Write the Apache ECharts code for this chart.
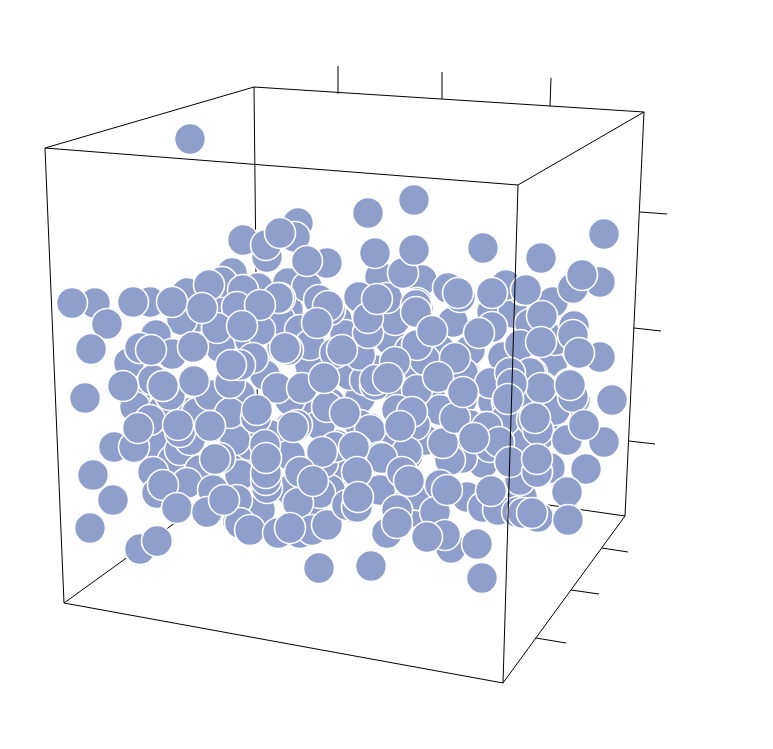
<!DOCTYPE html>
<html><head><meta charset="utf-8">
<style>html,body{margin:0;padding:0;background:#fff}#c{width:773px;height:749px}</style>
<script src="https://cdn.jsdelivr.net/npm/echarts@6/dist/echarts.min.js"></script>
</head><body><div id="c"></div>
<script>
const backEdges=[
[[254,87],[258,463]],[[258,463],[64,603]],[[258,463],[625,516]],
[[254,87],[644,112]],[[254,87],[45,148]],[[644,112],[518,185]],[[644,112],[625,516]],[[625,516],[503,683]]];
const frontEdges=[
[[45,148],[518,185]],[[518,185],[503,683]],[[503,683],[64,603]],[[64,603],[45,148]]];
const tickSegments=[
[[338,66],[338,94]],[[442,72],[442,99]],[[551,78],[550,106]],
[[640,212],[667,214]],[[634,328],[661,331]],[[629,441],[655,444]],
[[602,548],[628,552]],[[571,590],[599,594]],[[536,638],[566,643]]];
const pointsBack=[
[95,303],[150,302],[140,549],[267,257],[232,273],[298,223],[295,237],[327,263],[380,277],[422,280],[448,288],[492,293],[506,285],[573,288],[600,282],
[553,302],[600,357],[604,442],[567,440],[550,468],[568,520],[538,517],[523,513],[517,512],[522,497],[498,510],[483,507],[451,548],[435,512],[412,512],[387,533],[397,508],
[300,533],[328,525],[238,522],[237,502],[157,493],[114,447],[157,445],[129,363],[156,335],[140,348],[135,397],[135,407],[153,380],[187,293],[222,282],[243,290],[258,288],[187,413],[163,410],
[182,320],[197,317],[217,328],[237,307],[220,347],[255,360],[172,354],[227,387],[218,413],[237,418],[197,413],[173,460],[180,450],[187,483],[213,490],[238,455],
[290,427],[283,435],[288,283],[288,310],[319,300],[337,320],[359,297],[387,298],[417,303],[418,308],[453,322],[492,312],[513,313],[530,324],[552,367],[573,335],[574,326],[575,400],[572,397],[545,427],[540,435],[510,462],[537,472],
[483,463],[462,458],[493,402],[507,402],[487,427],[443,442],[455,420],[415,413],[370,428],[397,408],[330,403],[360,398],[300,410],[322,452],[337,445],[382,458],[408,455],[402,472],[300,472],[297,503],[350,502],[355,508],[418,495],[440,485],[467,497],[498,442],[465,373],[490,383],[513,375],[532,373],[542,387],[569,384],[503,357],[510,373],[455,357],[417,350],[395,362],[390,340],[368,333],[335,353],[295,350],[282,347],[280,320],[307,287],[280,298],
[462,400],[430,395],[400,395],[375,370],[350,375],[310,365],[265,375],[250,340],[300,330],[345,335],[395,320],[440,350],[470,350],[520,345],[555,340],[525,405],[555,410],[520,440],[440,410],[470,425],[425,440],[390,440],[360,425],[320,425],[270,435],[250,445],[210,395],[240,395],[170,395],[150,420],[190,440],[200,470],[240,475],[290,455],[340,470],[380,490],[450,460],[520,480],[330,490],[290,490],[260,510],[310,510],[365,380],[420,375],[290,400],[220,305],[260,330],[330,310],
[360,355],[310,345],[235,440],[323,463],[320,493],[410,350],[425,360],[415,425],[490,447],[375,385],[417,390],[505,420],[230,413],[253,358],[230,383]
];
const pointsMid=[
[95,303],[222,282],[209,285],[278,298],[243,290],[237,307],[182,320],[156,335],[140,348],[172,354],[123,386],[163,386],[134,447],[187,483],[153,472],[157,493],[237,500],
[213,490],[220,458],[256,418],[265,445],[287,349],[277,388],[302,388],[327,407],[297,425],[370,430],[357,450],[380,457],[407,452],[397,410],[412,412],[443,443],[455,418],[487,427],[499,442],[510,462],[537,472],
[463,373],[490,383],[530,373],[541,388],[573,397],[570,385],[574,326],[573,335],[492,327],[455,358],[417,345],[395,362],[375,380],[335,353],[288,350],[368,333],[319,300],[328,306],[359,297],[387,298],[416,305],[460,297],[523,290],[506,285],[573,288],
[335,447],[322,452],[382,458],[402,472],[418,495],[440,485],[483,507],[498,510],[517,512],[523,513],[397,510],[387,533],[435,512],[298,503],[300,533],[312,530],[327,525],[347,505],[357,507],[300,472],[240,523],[140,549],
[240,365],[217,328],[532,420],[538,430],[567,440],[267,488],[266,480],[266,473]
];
const pointsFront=[
[72,303],[107,324],[91,349],[85,398],[133,302],[172,302],[202,308],[151,350],[193,347],[194,381],[163,386],[138,428],[180,432],[178,425],[210,426],[93,475],[113,500],[90,528],[157,541],[163,485],[177,508],[207,512],[224,500],[250,530],[278,533],[290,528],[215,459],
[243,240],[266,245],[280,233],[307,261],[260,305],[242,326],[231,365],[257,410],[266,458],[293,427],[285,348],[317,323],[342,350],[324,378],[368,318],[403,273],[377,299],[416,312],[432,331],[458,293],[492,293],[526,290],[582,275],[542,316],[479,333],[541,342],[579,353],
[368,213],[414,200],[375,253],[414,250],[483,248],[541,258],[604,234],[612,400],[190,139],
[388,378],[438,377],[463,392],[510,373],[512,384],[508,399],[345,413],[400,426],[354,447],[313,481],[357,472],[409,481],[358,497],[447,490],[491,491],[532,513],[537,459],[535,418],[584,425],[474,438],[586,469],[567,492],[568,520],[397,523],[445,535],[427,537],[477,544],[482,578],[319,568],[371,566]
];
const fill='#8e9fcb';
const seg=(d,z,w)=>({type:'line',data:d,z:z,symbol:'none',silent:true,animation:false,lineStyle:{color:'#000',width:w||1}});
const points=pointsBack.concat(pointsMid,pointsFront);
echarts.init(document.getElementById('c'),null,{renderer:'canvas'}).setOption({
 animation:false,backgroundColor:'#fff',
 grid:{left:0,right:0,top:0,bottom:0},
 xAxis:{type:'value',min:0,max:773,show:false},
 yAxis:{type:'value',min:0,max:749,inverse:true,show:false},
 series:[
  ...backEdges.map(d=>seg(d,1)),
  ...tickSegments.map(d=>seg(d,1)),
  {type:'scatter',data:points,z:2,symbol:'circle',symbolSize:31,silent:true,animation:false,large:false,progressive:0,
   itemStyle:{color:fill,opacity:1,borderColor:'#fff',borderWidth:1.6}},
  ...frontEdges.map(d=>seg(d,3))
 ]
});
</script></body></html>
